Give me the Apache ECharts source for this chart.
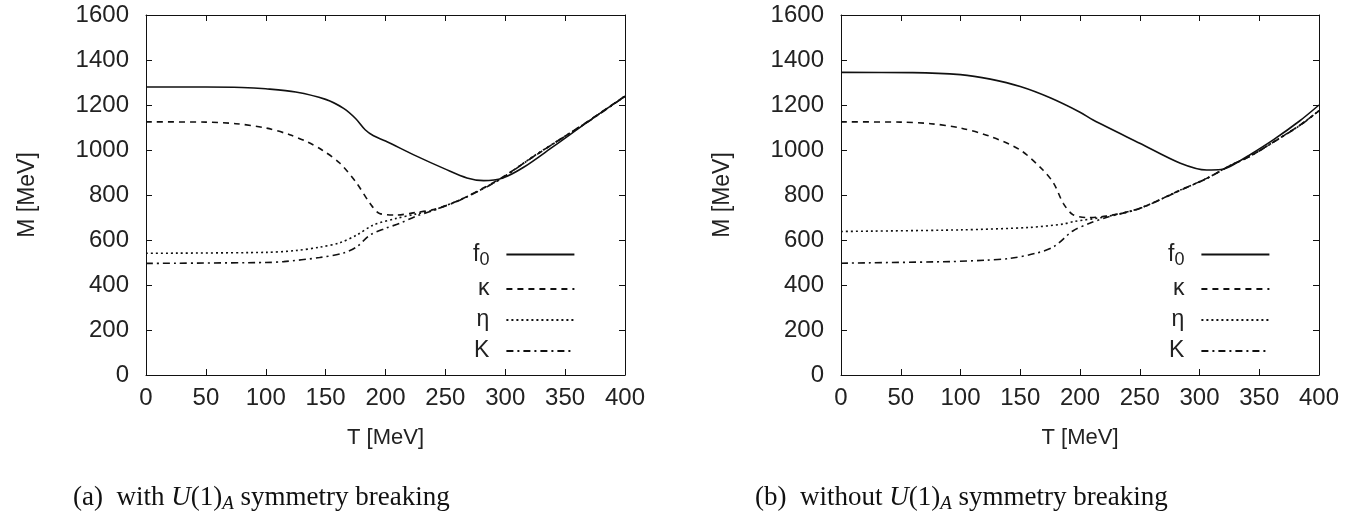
<!DOCTYPE html>
<html>
<head>
<meta charset="utf-8">
<script src="https://cdn.jsdelivr.net/npm/echarts@6/dist/echarts.min.js"></script>
<style>
    html, body { margin: 0; padding: 0; background: #fff; }
    #chart { width: 1364px; height: 514px; }
</style>
</head>
<body>
<div id="chart"></div>
<script>
// 数据 (T [MeV], M [MeV])
const seriesNames = ['f0', 'κ', 'η', 'K'];
const xTicks = [0, 50, 100, 150, 200, 250, 300, 350, 400];
const yTicks = [0, 200, 400, 600, 800, 1000, 1200, 1400, 1600];

// (a) with U(1)_A breaking
const f0A = [[0, 1280], [50, 1280], [80, 1278], [100, 1272], [125, 1258], [150, 1225], [165, 1185], [175, 1140], [183, 1090], [190, 1063], [200, 1040], [225, 975], [250, 915], [268, 876], [282, 864], [298, 876], [315, 922], [340, 1015], [371, 1133], [400, 1238]];
const kappaA = [[0, 1125], [50, 1124], [75, 1117], [100, 1098], [120, 1068], [135, 1035], [147, 1000], [162, 941], [176, 852], [187, 763], [195, 718], [209, 711], [225, 722], [240, 735], [262, 778], [282, 832], [298, 880], [323, 968], [350, 1062], [371, 1135], [400, 1240]];
const etaA = [[0, 541], [100, 545], [125, 553], [145, 568], [162, 588], [176, 622], [190, 667], [209, 696], [225, 715], [240, 733], [262, 778], [282, 830], [298, 878], [323, 970], [350, 1062], [371, 1133], [400, 1240]];
const kaonA = [[0, 496], [100, 500], [115, 504], [145, 522], [165, 542], [176, 570], [187, 622], [200, 652], [212, 674], [225, 705], [240, 731], [262, 777], [282, 829], [298, 877], [323, 969], [350, 1061], [371, 1132], [400, 1238]];

// (b) without U(1)_A breaking
const f0B = [[0, 1345], [60, 1344], [100, 1335], [125, 1315], [150, 1282], [175, 1232], [200, 1168], [211, 1133], [250, 1030], [284, 941], [306, 911], [318, 913], [326, 928], [342, 978], [362, 1046], [384, 1130], [400, 1200]];
const kappaB = [[0, 1125], [50, 1124], [75, 1117], [100, 1098], [125, 1060], [150, 1000], [169, 911], [178, 852], [186, 763], [194, 713], [205, 700], [222, 706], [250, 741], [284, 822], [306, 874], [326, 932], [342, 972], [362, 1036], [384, 1110], [400, 1175]];
const etaB = [[0, 638], [100, 645], [158, 656], [186, 671], [195, 682], [222, 704], [250, 741], [284, 822], [306, 874], [326, 932], [342, 972], [362, 1036], [384, 1110], [400, 1175]];
const kaonB = [[0, 497], [91, 504], [120, 510], [141, 518], [163, 541], [178, 570], [194, 640], [208, 674], [222, 700], [250, 740], [284, 821], [306, 873], [326, 931], [342, 971], [362, 1035], [384, 1109], [400, 1174]];

const captions = [
    '{n|(a)  with }{i|U}{n|(1)}{s|A}{n| symmetry breaking}',
    '{n|(b)  without }{i|U}{n|(1)}{s|A}{n| symmetry breaking}'
];

const INK = '#111';
const FONT = '"Liberation Sans", Arial, sans-serif';
const dashes = {
    'f0': 'solid',
    'κ': [6, 5],
    'η': [2, 3],
    'K': [7, 4, 2, 4]
};

const grids = [
    { left: 146, top: 15, width: 479, height: 360 },
    { left: 841, top: 15, width: 478, height: 360 }
];

function xAxisOf(gi, pos) {
    const main = pos === 'bottom';
    return {
        type: 'value', gridIndex: gi, position: pos,
        min: xTicks[0], max: xTicks[xTicks.length - 1], interval: xTicks[1] - xTicks[0],
        name: main ? 'T [MeV]' : '', nameLocation: 'middle', nameGap: 52,
        nameTextStyle: { color: '#222', fontFamily: FONT, fontSize: 22 },
        axisLine: { show: true, onZero: false, lineStyle: { color: INK, width: 1 } },
        axisTick: { show: true, inside: true, length: 6, lineStyle: { color: INK } },
        axisLabel: { show: main, margin: 11, color: '#222', fontFamily: FONT, fontSize: 24, formatter: v => String(v) },
        splitLine: { show: false }
    };
}

function yAxisOf(gi, pos) {
    const main = pos === 'left';
    return {
        type: 'value', gridIndex: gi, position: pos,
        min: yTicks[0], max: yTicks[yTicks.length - 1], interval: yTicks[1] - yTicks[0],
        name: main ? 'M [MeV]' : '', nameLocation: 'middle', nameGap: 107,
        nameTextStyle: { color: '#222', fontFamily: FONT, fontSize: 23 },
        axisLine: { show: true, onZero: false, lineStyle: { color: INK, width: 1 } },
        axisTick: { show: true, inside: true, length: 6, lineStyle: { color: INK } },
        axisLabel: { show: main, margin: 17, color: '#222', fontFamily: FONT, fontSize: 24, formatter: v => String(v) },
        splitLine: { show: false }
    };
}

function line(name, data, gi) {
    return {
        type: 'line', name: name, data: data,
        xAxisIndex: gi * 2, yAxisIndex: gi * 2,
        symbol: 'none', smooth: 0.3,
        lineStyle: { color: INK, width: 1.6, type: dashes[name] },
        itemStyle: { color: INK },
        emphasis: { disabled: true },
        z: name === 'f0' ? 3 : 2
    };
}

function legendOf(left) {
    return {
        data: seriesNames, orient: 'vertical', left: left, top: 238,
        align: 'right', itemWidth: 68, itemHeight: 14, itemGap: 8,
        selectedMode: false,
        itemStyle: { opacity: 0 },
        formatter: n => n === 'f0' ? '{b|f}{s|0}' : '{b|' + n + '}',
        textStyle: {
            color: '#222', fontFamily: FONT, fontSize: 23,
            width: 40, align: 'right', padding: [0, 12, 0, 0],
            rich: {
                b: { fontFamily: FONT, fontSize: 23, color: '#222' },
                s: { fontFamily: FONT, fontSize: 18, color: '#222', padding: [12, 0, 0, 0] }
            }
        }
    };
}

function caption(text, left) {
    const serif = '"Liberation Serif", "DejaVu Serif", serif';
    return {
        type: 'text', left: left, top: 484,
        style: {
            text: text,
            rich: {
                n: { fontFamily: serif, fontSize: 27, fill: '#111' },
                i: { fontFamily: serif, fontSize: 27, fontStyle: 'italic', fill: '#111' },
                s: { fontFamily: serif, fontSize: 19, fontStyle: 'italic', fill: '#111', padding: [12, 0, 0, 0] }
            }
        }
    };
}

const option = {
    animation: false,
    backgroundColor: '#fff',
    grid: grids,
    xAxis: [xAxisOf(0, 'bottom'), xAxisOf(0, 'top'), xAxisOf(1, 'bottom'), xAxisOf(1, 'top')],
    yAxis: [yAxisOf(0, 'left'), yAxisOf(0, 'right'), yAxisOf(1, 'left'), yAxisOf(1, 'right')],
    legend: [legendOf(468), legendOf(1163)],
    series: [
        line('f0', f0A, 0), line('κ', kappaA, 0), line('η', etaA, 0), line('K', kaonA, 0),
        line('f0', f0B, 1), line('κ', kappaB, 1), line('η', etaB, 1), line('K', kaonB, 1)
    ],
    graphic: [caption(captions[0], 73), caption(captions[1], 755)]
};

const chart = echarts.init(document.getElementById('chart'), null, { renderer: 'canvas' });
chart.setOption(option);
</script>
</body>
</html>
